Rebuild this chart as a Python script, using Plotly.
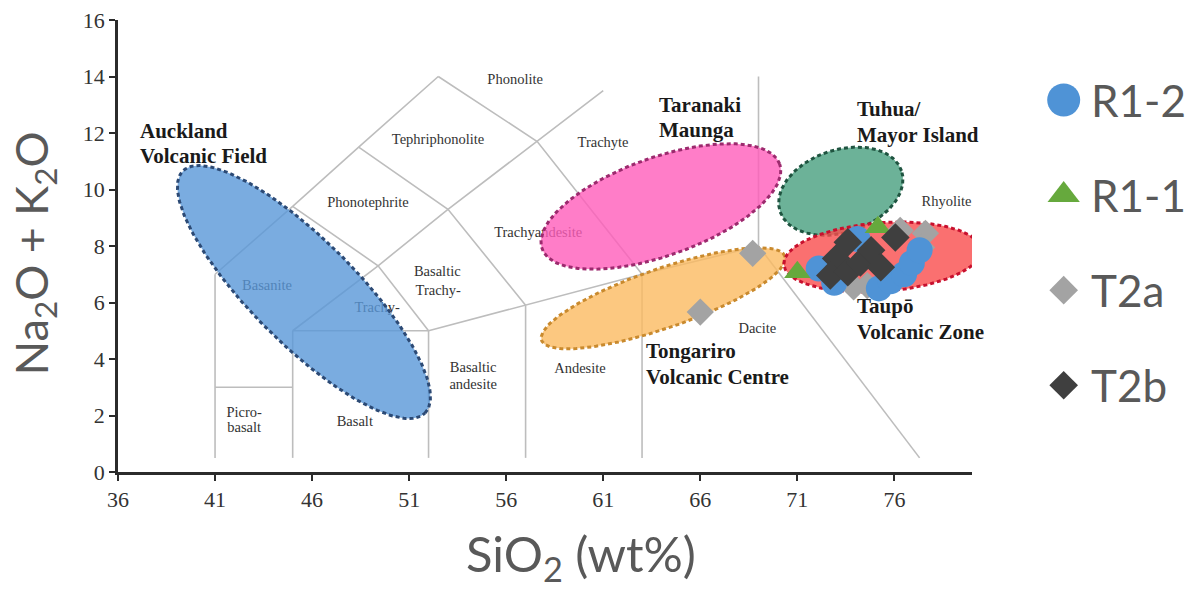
import numpy as np
import plotly.graph_objects as go

# ---- sample compositions: SiO2 (wt%) vs Na2O + K2O (wt%) ----
r12_sio2 = [72.1, 72.9, 74.1, 75.2, 75.8, 76.5, 76.9, 77.3]
r12_alk = [7.2, 6.7, 8.25, 6.5, 6.75, 7.0, 7.4, 7.85]
r11_sio2 = [71.0, 75.15]
r11_alk = [7.07, 8.66]
t2a_sio2 = [66.0, 68.7, 76.3, 77.6, 77.4, 73.9, 74.6]
t2a_alk = [5.66, 7.74, 8.55, 8.45, 7.95, 6.55, 6.6]
t2b_sio2 = [73.6, 73.0, 72.7, 73.6, 74.25, 74.8, 75.3, 76.05]
t2b_alk = [8.13, 7.56, 6.96, 7.07, 7.42, 7.85, 7.25, 8.3]

series_names = ["R1-2", "R1-1", "T2a", "T2b"]
series_symbols = ["circle", "triangle-up", "diamond", "diamond"]
series_colors = ["#4f93d6", "#66a93d", "#a3a3a3", "#3f3f3f"]

# ---- TAS classification boundaries (polylines) ----
tas_lines = [
    [(41, 0.5), (41, 7)],
    [(41, 3), (45, 3)],
    [(45, 0.5), (45, 5)],
    [(45, 5), (52, 5)],
    [(52, 0.5), (52, 5)],
    [(57, 0.5), (57, 5.9)],
    [(63, 0.5), (63, 7)],
    [(52, 5), (57, 5.9), (63, 7), (69, 8)],
    [(69, 8), (77.3, 0.5)],
    [(69, 8), (69, 14)],
    [(41, 7), (45, 9.4), (48.4, 11.5), (52.5, 14)],
    [(45, 5), (49.4, 7.3), (53, 9.3), (57.6, 11.7), (61, 13.5)],
    [(45, 9.4), (49.4, 7.3), (52, 5)],
    [(48.4, 11.5), (53, 9.3), (57, 5.9)],
    [(52.5, 14), (57.6, 11.7), (63, 7)],
]

rock_names = ["Phonolite", "Tephriphonolite", "Phonotephrite", "Trachyte",
              "Trachyandesite", "Basaltic", "Trachy-", "Basanite", "Trachy-",
              "Picro-", "basalt", "Basalt", "Basaltic", "andesite", "Andesite",
              "Dacite", "Rhyolite"]
rock_x = [56.46, 52.49, 48.88, 60.99, 57.65, 52.45, 52.5, 43.68, 49.35,
          42.5, 42.5, 48.2, 54.3, 54.3, 59.8, 68.94, 78.69]
rock_y = [13.87, 11.74, 9.51, 11.63, 8.45, 7.07, 6.4, 6.56, 5.79,
          2.07, 1.54, 1.76, 3.66, 3.06, 3.63, 5.05, 9.55]

# ---- volcanic centre fields (ellipses) ----
field_cx = [45.58, 63.97, 64.09, 73.24, 75.38]
field_cy = [6.37, 9.40, 6.15, 9.94, 7.61]
field_a = [8.82, 6.50, 6.63, 3.30, 5.09]
field_b = [2.68, 2.53, 1.53, 2.13, 1.77]
field_angle = [-45.0, 19.65, 19.07, 18.4, 4.3]
field_fill = ["rgba(89,151,216,0.8)", "rgba(255,93,186,0.8)",
              "rgba(251,186,96,0.8)", "rgba(71,159,126,0.8)",
              "rgba(249,76,76,0.8)"]
field_edge = ["#2c4a75", "#9c2a6e", "#c98a2e", "#1f5440", "#c8102e"]

field_titles = [["Auckland", "Volcanic Field"], ["Taranaki", "Maunga"],
                ["Tuhua/", "Mayor Island"], ["Taupō", "Volcanic Zone"],
                ["Tongariro", "Volcanic Centre"]]
title_x = [37.02, 63.78, 73.99, 73.99, 63.11]
title_y = [[12.06, 11.18], [12.98, 12.10], [12.84, 11.92], [5.87, 4.95],
           [4.27, 3.35]]

X_RANGE = [36, 80]
Y_RANGE = [0, 16]
L, R, T, B = 118, 0, 20, 118
W, H = 1189, 590
X_DOMAIN_END = 0.7974
plot_w = (W - L - R) * X_DOMAIN_END
plot_h = H - T - B
# screen aspect used to draw ellipses in an isotropic frame
k = (plot_h / (Y_RANGE[1] - Y_RANGE[0])) / (plot_w / (X_RANGE[1] - X_RANGE[0]))

fig = go.Figure()

# boundaries
lx, ly = [], []
for seg in tas_lines:
    for px, py in seg:
        lx.append(px)
        ly.append(py)
    lx.append(None)
    ly.append(None)
fig.add_trace(go.Scatter(x=lx, y=ly, mode="lines",
                         line=dict(color="#bdbdbd", width=1.6),
                         hoverinfo="skip", showlegend=False))

# rock names
fig.add_trace(go.Scatter(x=rock_x, y=rock_y, mode="text", text=rock_names,
                         textfont=dict(family="Liberation Serif", size=14.5,
                                       color="#333333"),
                         hoverinfo="skip", showlegend=False))

# fields
t = np.linspace(0, 2 * np.pi, 240)
for cx, cy, a, b, ang, fc, ec in zip(field_cx, field_cy, field_a, field_b,
                                      field_angle, field_fill, field_edge):
    th = np.radians(ang)
    ex = cx + a * np.cos(t) * np.cos(th) - b * np.sin(t) * np.sin(th)
    ey = (cy * k + a * np.cos(t) * np.sin(th) + b * np.sin(t) * np.cos(th)) / k
    fig.add_trace(go.Scatter(x=ex, y=ey, mode="lines", fill="toself",
                             fillcolor=fc,
                             line=dict(color=ec, width=3, dash="4px,3px"),
                             hoverinfo="skip", showlegend=False))

# samples (drawn order: T2a, R1-2, R1-1, T2b)
samples = {
    "R1-2": (r12_sio2, r12_alk, 26),
    "R1-1": (r11_sio2, r11_alk, 23),
    "T2a": (t2a_sio2, t2a_alk, 21),
    "T2b": (t2b_sio2, t2b_alk, 22),
}
for name in ["T2a", "R1-2", "R1-1", "T2b"]:
    i = series_names.index(name)
    sx, sy, sz = samples[name]
    fig.add_trace(go.Scatter(x=sx, y=sy, mode="markers", name=name,
                             marker=dict(symbol=series_symbols[i], size=sz,
                                         color=series_colors[i], opacity=1,
                                         line=dict(width=0)),
                             showlegend=False))

# legend (own axes on the right)
leg_sizes = [33, 28, 22, 22]
fig.add_trace(go.Scatter(x=[0.35] * 4, y=list(range(4)), mode="markers",
                         xaxis="x2", yaxis="y2",
                         marker=dict(symbol=series_symbols, size=leg_sizes,
                                     color=series_colors, opacity=1,
                                     line=dict(width=0)),
                         hoverinfo="skip", showlegend=False))

annotations = []
for i, name in enumerate(series_names):
    annotations.append(dict(x=0.48, y=i, xref="x2", yref="y2", text=name,
                            showarrow=False, xanchor="left", yanchor="middle",
                            font=dict(family="Lato", size=44,
                                      color="#595959")))

for lines, tx, tys in zip(field_titles, title_x, title_y):
    for line, ty in zip(lines, tys):
        annotations.append(dict(x=tx, y=ty, xref="x", yref="y",
                                text="<b>" + line + "</b>", showarrow=False,
                                xanchor="left", yanchor="middle",
                                font=dict(family="Liberation Serif", size=21,
                                          color="#1a1a1a")))

# axis titles
annotations.append(dict(x=0.432, y=-0.188, xref="paper", yref="paper",
                        text="SiO<sub>2</sub> (wt%)", showarrow=False,
                        xanchor="center", yanchor="middle",
                        font=dict(family="Lato", size=49, color="#595959")))
annotations.append(dict(x=-0.079, y=0.485, xref="paper", yref="paper",
                        text="Na<sub>2</sub>O + K<sub>2</sub>O",
                        showarrow=False, textangle=-90,
                        xanchor="center", yanchor="middle",
                        font=dict(family="Lato", size=45, color="#595959")))

axis_common = dict(showgrid=False, zeroline=False, showline=True,
                   linecolor="#2b2b2b", linewidth=2.5, ticks="outside",
                   ticklen=6, tickwidth=2, tickcolor="#2b2b2b",
                   tickfont=dict(family="Liberation Serif", size=22,
                                 color="#333333"))

fig.update_layout(
    width=W, height=H,
    margin=dict(l=L, r=R, t=T, b=B, pad=0),
    plot_bgcolor="white", paper_bgcolor="white",
    xaxis=dict(range=X_RANGE, domain=[0, X_DOMAIN_END], tickmode="array",
               tickvals=[36, 41, 46, 51, 56, 61, 66, 71, 76], **axis_common),
    yaxis=dict(range=Y_RANGE, tickmode="array",
               tickvals=list(range(0, 17, 2)), **axis_common),
    xaxis2=dict(domain=[0.82, 1.0], range=[0, 1], anchor="y2",
                visible=False, fixedrange=True),
    yaxis2=dict(domain=[0, 1], range=[3.913, -0.842], anchor="x2",
                visible=False, fixedrange=True),
    annotations=annotations,
    showlegend=False,
)

fig.write_html("out.html")
